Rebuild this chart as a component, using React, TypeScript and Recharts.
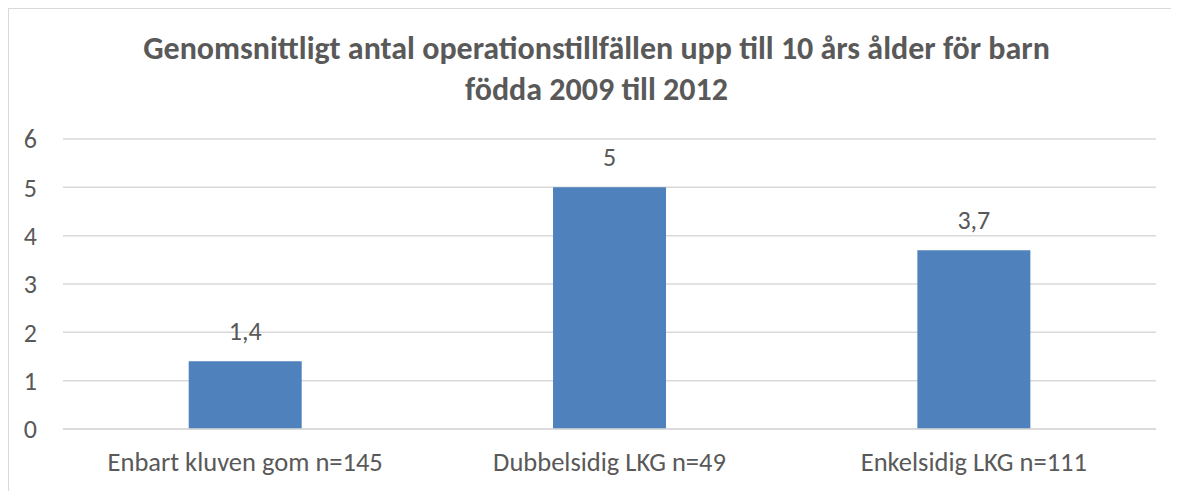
import React from "react";
import { BarChart, Bar, XAxis, YAxis, CartesianGrid, LabelList } from "recharts";

const categories = ["Enbart kluven gom n=145", "Dubbelsidig LKG n=49", "Enkelsidig LKG n=111"];
const values = [1.4, 5, 3.7];
const yTicks = [0, 1, 2, 3, 4, 5, 6];

const data = categories.map((name, i) => ({ name, value: values[i] }));

const TEXT = "#595959";
const FONT = "Carlito, 'Open Sans', 'Liberation Sans', sans-serif";

export default function App() {
  return (
    <div
      style={{
        position: "relative",
        width: 1171,
        height: 490,
        borderTop: "2px solid #d9d9d9",
        borderLeft: "2px solid #d9d9d9",
        fontFamily: FONT,
        marginTop: -1,
        marginLeft: -1,
      }}
    >
      <div
        style={{
          position: "absolute",
          left: 0,
          top: 19,
          width: 1175,
          textAlign: "center",
          fontWeight: 700,
          fontSize: 32,
          lineHeight: "41px",
          color: TEXT,
        }}
      >
        Genomsnittligt antal operationstillfällen upp till 10 års ålder för barn
        <br />
        födda 2009 till 2012
      </div>
      <BarChart
        width={1169}
        height={481}
        data={data}
        margin={{ top: 130, right: 22, left: 0, bottom: 22 }}
        barCategoryGap="34.5%"
      >
        <CartesianGrid vertical={false} stroke="#d9d9d9" strokeWidth={1.5} />
        <XAxis
          dataKey="name"
          tickLine={false}
          axisLine={{ stroke: "#d9d9d9", strokeWidth: 1.5 }}
          tickSize={0}
          tickMargin={23}
          height={39}
          tick={{ fill: TEXT, fontSize: 26.5, fontFamily: FONT }}
        />
        <YAxis
          domain={[0, 6]}
          ticks={yTicks}
          width={54}
          axisLine={false}
          tickLine={false}
          tickSize={0}
          tickMargin={26}
          tick={{ fill: TEXT, fontSize: 26, fontFamily: FONT }}
        />
        <Bar dataKey="value" fill="#4F81BD" isAnimationActive={false}>
          <LabelList
            dataKey="value"
            position="top"
            offset={21}
            fill={TEXT}
            fontSize={26}
            fontFamily={FONT}
            formatter={(v: any) => String(v).replace(".", ",")}
          />
        </Bar>
      </BarChart>
    </div>
  );
}
